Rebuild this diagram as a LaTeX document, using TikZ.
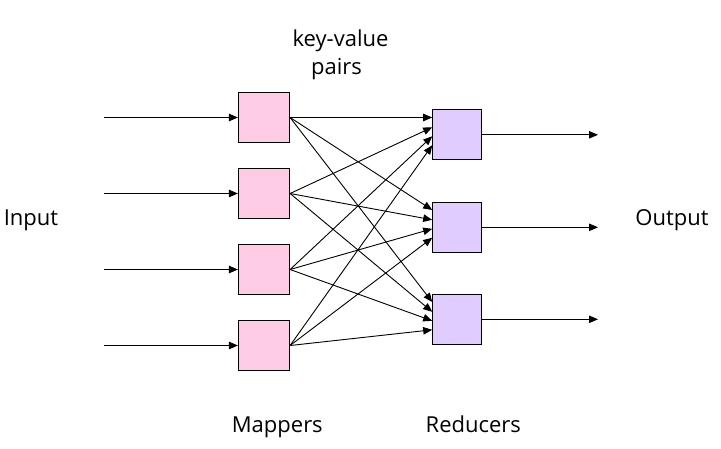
\documentclass[tikz,border=0pt]{standalone}
\usepackage{fontspec}
\setmainfont{Open Sans}
\usetikzlibrary{arrows.meta}
\definecolor{mapfill}{HTML}{FFCCE5}
\definecolor{redfill}{HTML}{E0CCFF}
\begin{document}
\begin{tikzpicture}[x=1pt,y=-1pt,
  mapbox/.style={draw=black,line width=1.2pt,fill=mapfill,minimum width=51pt,minimum height=50pt,inner sep=0pt},
  redbox/.style={draw=black,line width=1.2pt,fill=redfill,minimum width=49pt,minimum height=50pt,inner sep=0pt},
  conn/.style={line width=0.9pt,-{Triangle[length=9pt,width=7.5pt]}},
  lbl/.style={anchor=base,inner sep=0pt,font=\fontsize{22}{26}\selectfont}]
\useasboundingbox (0,0) rectangle (721,448);
% mappers
\node[mapbox] (m1) at (264,117.5) {};
\node[mapbox] (m2) at (264,193.5) {};
\node[mapbox] (m3) at (264,269.5) {};
\node[mapbox] (m4) at (264,345.5) {};
% reducers
\node[redbox] (r1) at (457.3,134.8) {};
\node[redbox] (r2) at (457.3,227.3) {};
\node[redbox] (r3) at (457.3,319.3) {};
% input starts / output ends
\coordinate (i1) at (104,117.5);
\coordinate (i2) at (104,193.5);
\coordinate (i3) at (104,269.5);
\coordinate (i4) at (104,345.5);
\coordinate (o1) at (598,134.8);
\coordinate (o2) at (598,227.3);
\coordinate (o3) at (598,319.3);
\foreach \k in {1,2,3,4} \draw[conn] (i\k) -- (m\k.west);
\foreach \k in {1,2,3} \draw[conn] (r\k.east) -- (o\k);
% shuffle connectors
\foreach \j in {1,2,3} {
  \draw[conn] (m1.east) -- ([yshift=17.3pt]r\j.west);
  \draw[conn] (m2.east) -- ([yshift=7.5pt]r\j.west);
  \draw[conn] (m3.east) -- ([yshift=-1.5pt]r\j.west);
  \draw[conn] (m4.east) -- ([yshift=-10.5pt]r\j.west);
}
% labels
\node[lbl] (kv) at (340.5,46.7) {key-value};
\node[lbl] (pr) at (336.5,74) {pairs};
\node[lbl] (inp) at (31,225) {Input};
\node[lbl] (outp) at (672,225) {Output};
\node[lbl] (mp) at (277.3,432.7) {Mappers};
\node[lbl] (rd) at (473.3,432.7) {Reducers};
\end{tikzpicture}
\end{document}
